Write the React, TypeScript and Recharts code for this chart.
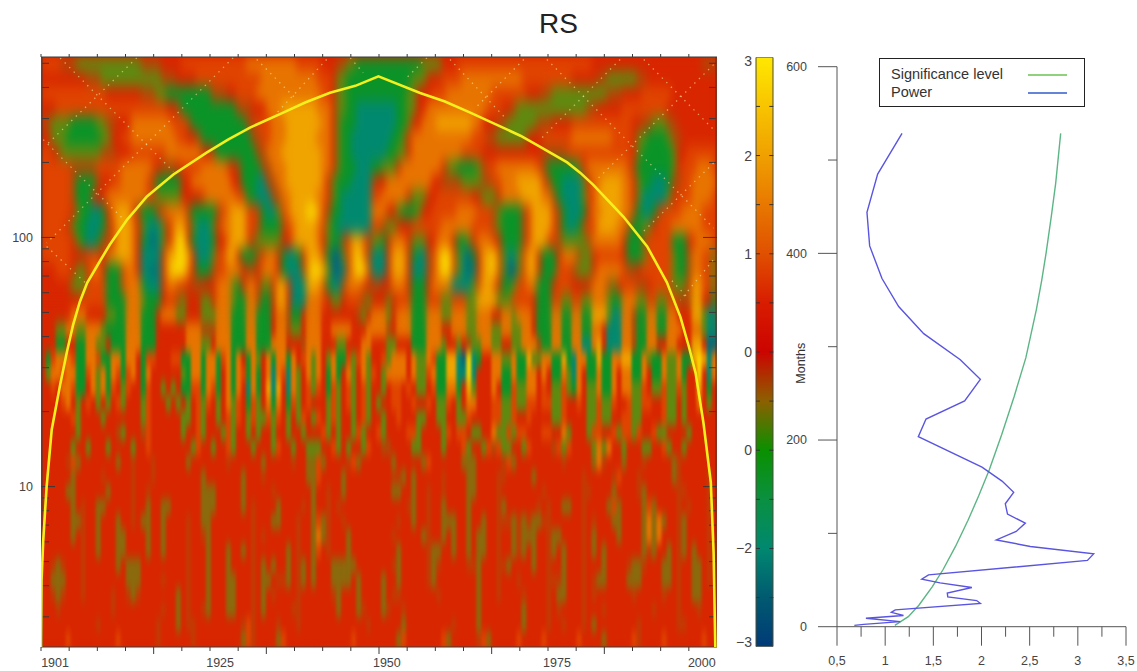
import { Bar, BarChart, Scatter, ScatterChart, XAxis, YAxis } from 'recharts'

const FONT = '"Liberation Sans", Arial, sans-serif'

// wavelet power: each row runs from the longest period down,
// written as "column:level" where a level holds until the next column
const HEAT_COLS = 135
const HEAT_ROWS = [
  '0:6 4:4 7:3 20:4 24:5 28:6 41:7 51:6 56:5 59:4 61:3 63:2 76:3 80:5 83:6 110:5 132:4',
  '0:5 9:4 12:3 24:4 27:5 31:6 44:7 55:6 58:5 59:3 61:2 74:3 77:5 80:6 84:7 96:6 106:5 111:4 113:3 119:4 121:5',
  '0:6 13:5 20:4 23:3 25:2 34:4 37:5 39:6 43:7 56:6 58:5 59:3 61:2 73:3 75:5 78:6 81:7 90:6 97:5 100:4 102:3 113:4 116:5 120:6 126:5',
  '0:5 3:6 25:5 27:4 28:2 39:4 42:5 45:7 48:8 55:7 58:5 59:3 61:2 63:1 71:2 73:3 75:5 77:7 89:6 92:5 94:4 95:3 109:4 111:5 116:6 125:5',
  '0:4 2:3 6:2 11:3 13:4 15:5 18:7 26:6 29:4 30:2 41:4 43:6 46:7 49:8 56:7 58:5 59:3 60:2 63:1 71:2 73:3 74:5 76:7 79:8 86:7 88:5 91:4 93:3 99:4 102:5 106:6 118:5 120:4 122:3 125:4 127:5',
  '0:5 2:3 5:2 12:3 14:5 16:6 18:7 27:6 29:5 31:4 32:2 42:4 44:6 46:7 49:8 55:7 58:5 59:3 60:2 62:1 70:2 72:3 73:5 74:7 86:6 89:4 91:3 97:5 100:6 106:7 114:6 118:5 119:3 121:2 125:3 126:4 128:5',
  '0:6 2:5 3:4 4:3 12:4 15:5 18:6 25:7 32:5 34:4 35:2 43:4 45:7 48:8 56:7 58:5 59:3 60:2 62:1 69:2 71:3 73:5 74:7 84:6 88:5 100:4 105:6 118:5 119:3 120:2 126:3 127:5 129:6',
  '0:6 6:4 11:6 16:7 22:6 23:5 24:4 27:5 28:6 32:7 37:6 38:5 39:4 40:2 44:4 46:7 49:8 56:7 58:5 59:3 60:2 63:1 66:2 68:3 71:5 72:7 80:5 81:3 83:2 87:3 88:4 89:6 91:7 99:6 100:4 101:2 107:3 108:5 109:7 117:6 118:4 119:2 126:3 127:5 128:6 131:7 134:6',
  '0:6 6:4 7:2 11:4 12:5 14:6 16:7 21:6 22:4 23:2 28:5 30:7 38:5 40:2 43:1 45:4 47:7 49:8 56:7 57:5 58:3 59:2 62:1 66:4 67:5 69:7 78:5 80:4 84:3 88:4 90:6 92:7 95:8 100:6 101:4 102:2 104:1 108:3 109:5 110:7 112:8 116:7 118:5 119:3 120:2 122:1 125:2 126:4 128:6 130:7',
  '0:6 6:4 7:2 10:4 11:5 13:7 21:6 23:3 28:5 32:6 33:7 39:6 41:2 43:1 46:4 48:7 50:8 55:7 57:5 58:3 59:2 60:1 66:6 68:7 73:5 74:3 77:5 79:6 86:5 88:3 91:5 92:7 96:8 100:7 102:4 103:2 104:1 108:3 109:6 111:8 116:7 118:5 119:3 120:1 125:3 126:5 127:6 130:7 134:6',
  '0:6 6:5 7:3 8:2 10:1 12:2 13:5 14:7 15:8 18:6 19:4 20:2 23:4 24:6 25:7 29:4 30:2 35:4 36:6 37:7 38:8 41:6 43:4 44:2 45:1 47:3 48:6 49:7 50:8 53:9 55:8 56:6 57:4 58:2 60:1 66:7 69:5 71:3 72:2 75:3 76:5 78:6 83:7 87:6 90:4 91:3 92:2 96:4 97:6 98:8 102:6 103:4 104:2 105:1 108:2 109:5 110:7 112:8 116:7 118:4 119:2 120:1 122:2 123:4 124:6 128:7 132:6',
  '0:6 5:5 6:3 7:2 9:1 12:2 13:4 14:6 15:8 18:7 19:5 20:3 21:1 24:3 25:5 26:7 27:8 29:5 30:3 31:1 34:3 35:5 36:7 38:8 41:6 43:4 44:2 48:4 49:6 50:7 51:8 55:7 56:6 57:3 58:2 59:1 66:6 68:4 69:3 71:5 74:6 80:7 86:6 90:4 91:3 92:2 96:4 97:6 98:8 102:6 103:4 104:2 105:1 107:2 108:4 109:6 111:8 115:7 117:4 118:2 120:3 122:5 123:6 126:7 132:6',
  '0:6 6:5 7:3 8:2 9:1 11:2 12:4 14:6 15:8 18:7 19:5 20:2 21:1 22:0 23:1 24:3 25:5 26:7 27:9 29:5 30:2 31:1 34:2 35:5 37:7 38:8 41:6 42:4 43:3 47:3 48:5 50:7 51:8 55:7 56:5 57:3 58:2 60:4 61:6 62:8 64:7 65:5 66:3 68:2 69:5 70:7 73:5 74:3 77:5 79:7 82:5 83:2 85:3 86:5 87:7 90:6 91:5 92:2 96:4 97:6 98:8 101:6 103:4 104:3 109:4 110:7 116:5 117:2 120:4 121:6 126:2 129:5 130:6 131:7 134:6',
  '0:6 6:5 9:6 12:5 13:7 15:8 18:7 19:5 20:1 24:5 25:8 27:9 29:8 30:5 31:1 34:3 35:6 37:8 39:5 40:2 43:4 44:6 45:7 47:5 48:2 49:1 51:2 52:5 53:8 56:6 57:2 58:0 60:3 61:6 62:8 63:9 64:7 65:4 66:1 69:5 70:8 73:5 74:2 75:1 77:4 78:6 79:8 80:9 82:6 83:3 84:1 85:0 86:2 87:5 88:8 90:9 91:6 92:3 93:1 95:3 96:6 97:8 99:5 100:2 103:5 104:7 107:4 108:3 110:5 111:6 116:5 117:2 120:3 121:6 126:3 127:2 129:4 130:7 132:6 134:3',
  '0:5 3:6 6:5 7:3 9:5 10:7 12:5 13:2 16:6 17:7 19:5 20:1 22:0 23:1 24:5 25:8 26:9 29:7 30:5 31:2 34:4 35:6 37:7 40:5 41:4 43:5 44:7 47:5 48:2 49:1 52:4 53:8 54:9 56:8 57:3 58:0 60:1 61:6 62:8 63:9 65:6 66:1 69:5 70:8 73:5 74:1 77:4 78:6 79:8 80:9 82:6 83:3 84:1 85:0 86:1 87:5 88:8 90:9 91:6 92:3 93:0 95:3 96:6 97:8 99:5 100:2 103:6 106:4 107:3 110:5 111:7 116:6 117:4 119:5 120:6 126:3 127:2 129:4 130:7 132:6 134:3',
  '0:5 6:3 9:6 13:2 16:6 17:7 20:2 21:1 24:5 25:7 27:6 29:5 30:4 32:5 35:7 38:3 39:2 40:5 41:7 43:5 44:3 46:5 47:8 49:5 50:1 53:8 56:6 57:2 58:1 60:4 61:7 64:6 65:5 66:4 68:5 70:7 73:5 74:2 77:5 78:7 82:1 86:3 87:6 88:8 90:7 91:5 92:2 94:3 95:6 97:7 99:2 102:5 103:6 106:5 110:7 113:4 114:3 115:5 116:6 119:4 121:5 122:6 126:3 129:5 130:8 132:6 134:3',
  '0:5 8:6 13:2 17:7 20:3 21:2 24:5 25:6 27:4 28:3 29:5 32:3 34:5 35:7 38:3 39:2 41:7 43:4 44:2 46:5 47:8 49:5 50:1 53:7 56:6 57:5 58:3 60:5 61:6 64:4 65:3 66:5 69:3 70:5 71:6 74:2 77:6 80:3 82:6 85:3 87:8 91:3 94:6 98:5 99:2 102:6 104:3 106:6 108:3 110:7 113:3 114:2 116:7 119:3 121:6 123:3 125:6 127:4 130:8 132:5 134:2',
  '0:5 6:7 9:5 13:3 15:2 17:7 20:2 23:5 24:7 27:3 29:5 32:3 35:7 38:2 41:7 43:2 46:5 47:7 49:4 50:2 52:5 53:7 56:5 63:4 64:3 65:5 66:7 69:3 70:5 71:7 74:2 77:7 80:3 82:7 85:3 87:7 90:5 92:7 94:3 95:7 98:5 99:2 102:7 104:2 106:7 108:2 110:8 113:3 114:1 116:7 118:4 119:2 121:7 123:2 125:7 127:5 130:8 132:3 133:1',
  '0:5 3:3 5:7 7:3 9:7 12:3 13:2 17:7 20:2 23:5 29:7 32:4 35:7 38:2 41:7 43:2 46:5 47:7 49:4 50:3 52:5 53:7 56:5 58:7 62:5 65:7 69:4 70:5 71:7 74:2 77:7 80:5 82:7 85:3 87:7 90:3 92:7 94:3 96:7 98:5 99:2 102:7 104:2 106:7 108:2 110:7 112:5 113:1 116:7 118:4 119:2 121:7 123:2 125:7 128:5 130:7 132:3 133:1',
  '0:5 3:2 5:5 7:2 9:7 11:3 13:5 14:2 17:7 20:2 23:5 29:7 32:3 34:5 35:7 38:2 41:7 43:2 46:7 49:5 52:4 53:7 56:5 59:3 61:5 64:7 66:5 69:3 71:5 74:2 77:7 80:3 81:5 83:3 84:5 85:4 86:3 88:7 90:3 92:5 94:3 96:7 99:4 100:2 102:7 104:2 106:7 108:1 110:7 111:8 112:5 113:1 116:7 118:4 119:2 121:7 123:5 125:7 127:5 130:8 132:5 133:0',
  '0:5 1:2 2:6 3:7 6:6 7:2 9:7 11:6 12:2 14:7 16:2 17:7 19:5 20:2 21:6 23:5 26:6 28:2 30:7 32:2 33:7 35:2 36:6 37:7 38:2 39:7 40:5 41:2 42:7 43:3 44:5 45:7 46:2 47:7 49:2 50:7 51:5 52:6 53:7 54:3 55:7 56:5 57:3 58:7 59:2 61:6 62:3 63:6 64:7 65:3 66:5 68:6 69:3 70:7 73:5 74:7 75:3 77:7 78:6 79:2 81:8 83:1 84:0 85:9 86:1 87:2 88:5 90:7 92:3 94:7 95:2 97:8 98:3 100:7 102:2 104:8 105:2 106:1 107:7 109:2 111:8 112:2 114:7 116:8 118:2 120:7 121:3 122:2 124:7 125:3 127:7 128:2 130:8 131:9 132:8 133:1 134:7',
  '0:5 1:3 2:7 4:6 5:7 7:2 9:6 10:7 11:3 12:7 13:2 14:7 15:6 16:2 17:6 18:7 19:5 20:2 21:7 22:5 28:3 29:2 30:7 32:2 33:7 35:2 36:5 37:7 38:2 39:7 40:6 41:2 42:7 43:2 44:5 45:7 46:1 47:7 48:6 49:1 50:7 51:3 52:5 53:7 54:3 55:7 56:5 57:2 58:7 59:2 60:5 61:7 62:3 63:5 64:7 65:3 66:6 67:5 68:3 69:7 73:5 74:7 75:3 77:6 78:7 79:2 81:8 83:1 85:9 86:1 87:5 90:7 92:2 94:7 95:2 97:7 99:5 100:7 101:5 102:2 104:7 105:3 106:1 107:7 108:5 109:2 111:7 112:2 114:7 115:5 116:7 118:2 120:7 121:5 122:2 124:7 125:3 127:7 128:2 129:5 131:9 132:5 133:1 134:7',
  '0:5 2:6 3:5 4:7 6:6 7:2 9:5 10:7 11:3 12:7 13:2 14:6 15:5 16:3 17:6 18:5 20:2 21:6 22:5 24:3 25:5 26:3 27:5 28:2 30:6 32:2 33:7 34:6 35:2 36:5 37:7 38:2 39:7 40:5 41:1 42:7 43:2 44:5 45:8 46:1 47:8 48:5 49:1 50:7 51:3 52:5 53:6 54:3 55:6 56:5 57:2 58:6 59:3 60:5 61:6 62:3 63:5 64:6 65:3 66:5 68:3 69:5 70:6 72:5 73:6 74:5 75:3 77:5 78:6 79:2 81:7 83:2 84:5 85:8 86:3 87:5 90:7 91:5 92:2 94:6 95:3 97:7 99:5 100:6 101:5 102:3 104:6 105:3 106:2 107:7 108:5 109:3 111:7 112:2 114:7 115:5 116:7 118:3 120:6 121:5 122:3 124:6 125:3 127:6 128:3 129:5 131:8 132:5 133:2 134:5',
  '0:5 4:6 5:7 6:5 7:3 8:5 9:6 10:5 11:3 12:5 13:3 14:5 15:6 16:3 17:5 20:3 21:6 22:5 25:3 26:5 27:3 28:5 29:3 30:5 31:6 32:3 33:6 34:5 35:3 36:5 37:7 38:3 39:6 40:5 41:2 42:6 43:3 44:5 45:7 46:2 47:7 48:5 49:2 50:6 51:3 52:5 53:6 54:5 57:3 58:6 59:3 60:5 61:6 62:3 63:5 64:6 65:3 66:5 67:3 68:5 70:6 72:5 74:6 75:5 77:6 78:5 79:3 81:6 82:5 83:3 84:5 85:7 87:5 90:6 92:3 94:6 95:3 97:6 99:5 100:6 102:3 104:6 105:5 107:6 108:5 109:3 111:6 112:3 114:6 115:5 117:6 118:3 120:6 122:5 124:6 125:3 127:5 128:3 129:5 131:7 132:5 133:3 134:5',
  '0:5 6:6 7:3 8:5 12:3 13:5 20:3 21:6 22:5 28:3 30:5 31:6 32:3 33:5 35:3 36:5 37:6 38:3 39:6 40:5 41:3 42:6 43:3 45:6 46:3 47:6 48:5 49:3 50:5 51:3 52:6 53:5 54:3 55:6 56:5 57:3 58:6 59:3 60:5 62:3 63:5 64:6 65:3 66:5 68:3 69:5 71:6 72:5 75:3 77:5 79:3 81:5 83:3 85:6 86:5 90:6 92:3 94:6 95:5 97:6 98:5 102:3 104:6 105:5 109:3 111:6 112:3 114:5 116:6 118:3 120:5 124:6 125:3 127:5 128:3 129:5',
  '0:5 7:3 8:5 15:4 16:3 17:5 20:4 21:6 22:5 28:3 29:5 31:6 32:3 33:5 36:3 37:6 38:3 39:5 41:3 42:5 43:3 44:5 46:3 47:5 49:3 50:5 52:3 53:5 56:6 57:3 58:5 59:3 60:5 62:3 63:6 64:3 65:5 67:6 68:3 69:5 73:6 75:3 76:5 80:3 81:6 82:5 83:6 85:5 86:3 88:5 90:7 91:3 93:6 94:3 95:6 97:5 100:6 102:5 104:7 105:3 106:5 109:3 110:6 112:5 114:6 115:3 116:6 118:3 119:6 120:5 122:6 123:3 125:5 129:3 130:5',
  '0:5 6:3 7:5 9:3 10:5 13:3 14:5 18:3 19:5 21:6 22:5 30:3 31:6 32:5 34:3 35:5 37:6 38:3 39:5 42:3 43:5 46:3 47:6 48:5 50:3 51:5 53:3 54:6 55:3 56:5 58:6 59:3 60:5 61:3 62:5 64:3 65:6 66:5 68:4 70:5 74:3 76:5 80:3 81:5 84:6 85:3 86:5 88:3 89:6 90:4 91:6 92:3 94:5 96:3 97:6 98:5 102:4 103:6 104:3 105:6 106:5 110:3 111:7 112:3 113:7 114:5 116:3 117:5 120:3 122:5 124:6 125:3 126:5 128:3 129:5',
  '0:5 5:4 6:6 7:3 8:5 15:3 16:5 22:4 23:5 29:3 30:5 37:4 38:5 44:3 45:5 50:4 51:5 54:3 55:6 56:3 57:5 61:4 62:6 63:3 64:5 70:3 71:5 76:3 77:6 78:5 84:3 85:6 86:3 87:5 92:4 93:6 94:3 95:5 104:4 105:5 110:3 111:7 112:4 113:5 116:3 117:5 120:4 121:5 126:3 127:5',
  '0:5 6:4 7:5 12:4 13:5 22:4 23:5 32:3 33:5 44:4 45:5 54:3 55:6 56:5 60:3 61:5 70:4 72:3 73:5 80:4 81:5 85:6 86:3 87:5 92:4 93:5 98:3 99:5 108:4 109:5 114:4 115:6 116:5 119:4 120:5 126:3 127:5',
  '0:5 5:3 6:5 13:3 14:5 21:4 22:5 32:3 33:4 34:3 35:5 46:4 47:5 54:4 55:5 60:3 61:5 70:3 72:5 80:4 81:5 86:3 87:5 100:4 101:5 108:3 109:4 110:5 114:3 115:5 119:4 120:3 121:5 128:4 129:5',
  '0:5 6:3 7:5 11:4 12:3 13:5 21:3 22:5 25:3 26:5 32:3 33:2 34:3 35:5 47:3 48:5 52:4 53:5 59:4 60:5 73:4 75:5 80:3 81:5 92:3 93:5 99:4 100:5 104:3 106:5 113:3 114:6 115:3 116:5 120:3 121:6 122:3 123:5 129:4 130:5',
  '0:5 6:4 7:3 8:5 11:3 12:5 15:4 16:5 20:3 21:5 24:3 25:5 32:3 33:4 34:5 46:3 47:5 54:3 55:6 56:3 57:5 60:4 61:5 71:4 72:5 80:3 82:5 88:3 89:5 92:4 94:5 96:3 97:4 98:3 100:4 101:5 110:4 111:5 114:3 115:5 120:3 121:7 122:3 123:7 124:3 125:5',
  '0:5 6:3 7:5 11:3 12:5 16:3 17:5 24:3 25:5 32:4 33:3 34:5 44:4 45:5 54:3 55:7 56:3 57:5 61:3 62:5 70:4 71:5 76:3 77:5 80:3 81:5 88:3 89:5 95:3 96:6 97:3 98:6 99:5 102:3 104:5 110:3 111:5 120:3 121:7 122:3 123:7 124:5 128:3 129:5',
  '0:5 8:4 9:5 16:3 17:5 24:4 25:5 40:3 41:5 49:3 50:5 54:3 55:6 56:5 61:3 62:5 71:4 72:5 78:3 80:5 87:3 89:5 95:3 96:5 102:3 103:5 110:3 111:5 121:4 122:5 130:3 131:5',
  '0:5 2:4 3:3 4:4 5:5 17:3 20:5 37:3 38:5 44:4 45:5 46:3 47:5 52:3 53:5 58:3 61:5 62:3 63:5 70:4 71:3 72:5 78:3 79:4 80:5 85:4 87:3 88:5 92:4 93:3 94:5 104:3 105:5 112:4 113:5 117:4 118:3 120:4 121:5 124:3 125:5 130:4 131:3 132:5',
  '0:5 2:3 5:5 17:3 20:5 24:4 25:5 38:3 39:5 44:3 46:5 47:4 49:5 52:3 53:5 58:3 59:2 60:3 61:5 63:3 64:5 71:3 72:5 78:4 79:5 87:3 88:5 95:4 96:5 102:4 104:5 110:4 111:3 112:5 117:3 120:5 124:3 126:5 130:3 132:5',
  '0:5 2:4 3:3 4:4 5:5 14:4 15:5 17:4 18:3 19:4 20:5 29:3 30:5 38:3 39:5 46:4 47:5 58:4 59:3 60:5 63:3 64:5 70:4 72:5 79:4 80:5 87:3 88:5 96:4 97:5 103:3 104:5 110:4 111:5 118:4 119:5 124:4 125:5 131:3 132:5',
  '0:5 3:4 4:5 14:4 15:5 24:4 25:5 32:4 33:5 38:3 39:5 50:4 51:5 64:4 65:5 69:4 70:5 72:4 73:5 87:3 88:5 96:3 97:5 103:4 104:5 112:4 113:5 122:4 123:5 131:4 132:5',
  '0:5 11:4 12:5 23:4 24:5 30:4 31:5 40:4 41:6 42:5 47:4 48:5 65:4 66:5 72:3 73:5 82:4 83:5 87:4 88:5 96:3 97:5 104:4 105:5 110:3 111:5 119:4 120:5 128:4 129:5',
  '0:5 5:6 6:5 15:6 16:5 23:4 24:5 30:4 31:5 40:3 41:6 42:5 47:3 48:6 49:5 62:6 63:5 71:3 72:6 73:5 80:6 81:3 82:5 87:4 88:6 89:3 90:5 95:6 96:5 100:6 101:5 107:6 108:5 112:3 113:5 118:6 119:4 120:5 124:6 125:5 132:6 133:5',
]
// thin olive streaks of the short-period zone, each [column, first row, last row, level]
const HEAT_STREAKS = [
  [6, 28, 31, 3], [11, 30, 33, 3], [15, 31, 34, 3], [21, 30, 33, 3], [24, 30, 33, 3], [33, 29, 34, 3],
  [37, 33, 37, 3], [27, 36, 38, 3], [33, 35, 37, 3], [44, 34, 37, 3], [47, 30, 31, 3], [49, 33, 35, 3],
  [54, 26, 35, 3], [53, 26, 28, 3], [59, 34, 37, 3], [61, 33, 35, 3], [63, 35, 37, 3], [40, 28, 30, 3],
  [8, 30, 36, 4], [18, 27, 31, 4], [29, 31, 38, 4], [42, 30, 39, 4], [51, 31, 38, 4], [57, 29, 33, 4],
  [74, 28, 31, 3], [71, 33, 35, 3], [68, 35, 37, 3], [78, 33, 35, 3], [82, 31, 33, 3], [85, 26, 33, 3],
  [87, 32, 38, 3], [94, 31, 33, 3], [95, 31, 33, 4], [96, 32, 33, 3], [98, 31, 34, 3], [104, 33, 36, 3],
  [112, 33, 35, 3], [115, 30, 32, 3], [118, 34, 35, 3], [120, 30, 33, 3], [122, 30, 33, 3], [125, 33, 35, 3],
  [130, 34, 36, 3], [128, 31, 33, 3], [77, 29, 35, 4], [91, 28, 36, 4], [101, 30, 38, 4], [108, 29, 38, 4],
  [127, 27, 38, 4], [133, 28, 35, 4],
]
const LEVEL_COLORS = ['#04667a', '#008a70', '#0a9428', '#5f8a10', '#b04808', '#d82600', '#e04400', '#e87400', '#f0a400', '#fad800']
// short-period streaks are thinner than a cell, so they read weaker than the same level higher up
const FADED_OLIVE = '#8a6a0c'
const FADED_BROWN = '#c23a04'
const FADED_ROW_START = 27
const FINE_ROW_START = 16

const MONTHS_MAX = 1200
const PERIOD_MIN = 2.27
const PERIOD_MAX = 530

const heatCells = HEAT_ROWS.flatMap((row, r) => {
  const levels = new Array(HEAT_COLS).fill(5)
  row.split(' ').forEach(part => {
    const [col, level] = part.split(':').map(Number)
    levels.fill(level, col)
  })
  HEAT_STREAKS.forEach(([col, from, to, level]) => {
    if (r >= from && r <= to) levels[col] = level
  })
  const share = (r + 0.5) / HEAT_ROWS.length
  const y = PERIOD_MAX * Math.pow(PERIOD_MIN / PERIOD_MAX, share)
  return levels.map((level, c) => ({ x: ((c + 0.5) / HEAT_COLS) * MONTHS_MAX, y, level, r }))
})
const fineCells = heatCells.filter(c => c.r >= FINE_ROW_START)

// cone of influence
const COI_MONTHS = [0, 1, 4, 10, 19, 34, 46, 57, 69, 82, 105, 122, 153, 188, 235, 294, 332, 371, 430, 469, 513, 558, 599, 673, 717, 762, 820, 851, 880, 934, 957, 980, 1034, 1076, 1111, 1135, 1150, 1162, 1176, 1189, 1194, 1197]
const COI_PERIODS = [2.27, 4.2, 6.1, 10, 16.9, 25.6, 34.7, 44.6, 55.2, 65.8, 80.6, 93.5, 118, 146, 179, 219, 247, 276, 317, 348, 381, 406, 443, 380, 351, 317, 276, 256, 235, 200, 182, 163, 121, 92, 66, 48, 36.5, 28.6, 18, 10.4, 5.4, 2.27]

// pale dotted diagonals, each [month, period, month, period]
const CONE_SEGMENTS = [
  [34, 525, 235, 184], [170, 526, 7, 232], [341, 526, 10, 95], [383, 518, 454, 357],
  [507, 518, 419, 317], [549, 526, 572, 458], [4, 247, 152, 115], [10, 92, 78, 66],
  [685, 526, 649, 437], [726, 518, 827, 297], [857, 518, 774, 336], [898, 518, 1194, 109],
  [1028, 518, 886, 247], [1194, 494, 987, 171], [1070, 518, 1194, 271], [1194, 199, 1070, 106],
  [1120, 67, 1149, 57], [1193, 81, 1135, 56],
]

const MONTH_TICKS = [0, 50, 100, 150, 250, 300, 350, 450, 500, 550, 650, 700, 750, 850, 900, 950, 1050, 1100, 1150]
const MONTH_MAJOR_TICKS = [200, 400, 600, 800, 1000]
const MONTH_TOP_TICKS = [...MONTH_TICKS, ...MONTH_MAJOR_TICKS].sort((a, b) => a - b)
const YEAR_LABEL_MONTHS = [25, 318, 614, 916, 1173]
const YEAR_LABELS = ['1901', '1925', '1950', '1975', '2000']
const MONTH_BOTTOM_TICKS = [...MONTH_TOP_TICKS, ...YEAR_LABEL_MONTHS].sort((a, b) => a - b)
const PERIOD_MAJOR_TICKS = [10, 100]
const PERIOD_MINOR_TICKS = [3, 4, 5, 6, 7, 8, 9, 20, 30, 40, 50, 60, 70, 80, 90, 200, 300, 400, 500]

const COLORBAR_TICKS = [3, 2, 1, 0, -1, -2, -3]
const COLORBAR_LABELS = ['3', '2', '1', '0', '0', '\u22122', '\u22123']
const COLORBAR_MARKS = [-2.5, -2, -1.5, -1, -0.5, 0, 0.5, 1, 1.5, 2, 2.5]
const COLORBAR_STOPS: [number, string][] = [
  [3, '#ffe800'], [2.5, '#f8c400'], [2, '#f0a000'], [1.5, '#e87800'], [1, '#e05000'], [0.5, '#d81c00'],
  [0, '#cc0400'], [-0.5, '#8c6000'], [-1, '#0a9000'], [-1.5, '#0a9040'], [-2, '#008870'], [-2.5, '#005a70'], [-3, '#003a78'],
]

// global power spectrum
const POWER_MONTHS = [528.6, 485, 444, 408, 373, 343, 314, 286, 265, 242, 222.5, 203.6, 171, 156, 144, 131.7, 120.6, 111, 102, 93, 86, 78, 71, 55.5, 51, 47, 42, 36, 32, 28, 25, 18, 15.4, 12, 9, 5.4, 2.5, 1.4]
const POWER_VALUES = [1.175, 0.922, 0.811, 0.839, 0.967, 1.14, 1.4, 1.78, 1.988, 1.825, 1.424, 1.344, 2.005, 2.213, 2.334, 2.247, 2.27, 2.455, 2.36, 2.154, 2.507, 3.164, 3.1, 1.45, 1.38, 1.57, 1.9, 1.645, 1.65, 1.95, 1.988, 1.105, 1.064, 1.19, 0.8, 1.157, 0.777, 0.68]
const SIG_MONTHS = [528.6, 475, 440, 400, 371, 340, 288, 247, 206, 168, 140, 114, 86, 61, 43, 23, 10.7, 1.4]
const SIG_VALUES = [2.822, 2.77, 2.725, 2.67, 2.625, 2.57, 2.46, 2.34, 2.21, 2.08, 1.97, 1.86, 1.73, 1.6, 1.49, 1.35, 1.24, 1.1]

const SPECTRUM_X_TICKS = [0.5, 1, 1.5, 2, 2.5, 3, 3.5]
const SPECTRUM_X_ALL = [0.5, 0.75, 1, 1.25, 1.5, 1.75, 2, 2.25, 2.5, 2.75, 3, 3.25, 3.5]
const SPECTRUM_Y_TICKS = [0, 200, 400, 600]
const SPECTRUM_Y_MINOR = [100, 300, 500]

const LEGEND_ITEMS = [
  { label: 'Significance level', color: '#8ed27c' },
  { label: 'Power', color: '#6484d8' },
]

const coiData = COI_MONTHS.map((x, i) => ({ x, y: COI_PERIODS[i] }))
const powerData = POWER_MONTHS.map((y, i) => ({ x: POWER_VALUES[i], y }))
const sigData = SIG_MONTHS.map((y, i) => ({ x: SIG_VALUES[i], y }))
const colorbarData = [{ name: 'scale', range: [-3, 3] }]

const periodDomain = [PERIOD_MIN, PERIOD_MAX]
const monthDomain = [0, MONTHS_MAX]
const frame = '#3a3a3a'
const labelStyle = { fontSize: 12.5, fill: '#444', fontFamily: FONT }
// axes that only carry tick lines: next to nothing so they take no room, yet recharts still draws them
const THIN = 0.01

const CELL_W = 676 / HEAT_COLS + 0.7
const CELL_H = 590 / HEAT_ROWS.length + 0.7

function cellColor(level: number, r: number) {
  if (r >= FADED_ROW_START && level === 3) return FADED_OLIVE
  if (r >= FADED_ROW_START && level === 4) return FADED_BROWN
  return LEVEL_COLORS[level]
}

function HeatCell(props: any) {
  return (
    <rect
      x={props.cx - CELL_W / 2}
      y={props.cy - CELL_H / 2}
      width={CELL_W}
      height={CELL_H}
      fill={cellColor(props.payload.level, props.payload.r)}
    />
  )
}

function HeatField({ cells }: { cells: any[] }) {
  return (
    <ScatterChart width={676} height={590} margin={{ top: 0, right: 0, bottom: 0, left: 0 }}>
      <XAxis type="number" dataKey="x" domain={monthDomain} hide />
      <YAxis type="number" dataKey="y" scale="log" domain={periodDomain} allowDataOverflow hide />
      <Scatter data={cells} shape={HeatCell} isAnimationActive={false} />
    </ScatterChart>
  )
}

function NoMark() {
  return null
}

// tick lines only: recharts drops the lines altogether when tick is false
function BlankTick() {
  return <g />
}

// year labels sit off the tick marks in the picture, so one axis draws marks and labels by hand
function MonthTick({ x, y, payload }: any) {
  const labelIndex = YEAR_LABEL_MONTHS.indexOf(payload.value)
  if (labelIndex >= 0) {
    return (
      <text x={x} y={y + 20} textAnchor="middle" {...labelStyle}>
        {YEAR_LABELS[labelIndex]}
      </text>
    )
  }
  const size = MONTH_MAJOR_TICKS.includes(payload.value) ? 7 : 4
  return <line x1={x} x2={x} y1={y} y2={y + size} stroke={frame} />
}

function SpectrumTick({ x, y, payload }: any) {
  if (!SPECTRUM_X_TICKS.includes(payload.value)) {
    return <line x1={x} x2={x} y1={y} y2={y + 10} stroke="#555" />
  }
  return (
    <g>
      <line x1={x} x2={x} y1={y} y2={y + 19} stroke="#555" />
      <text x={x} y={y + 38} textAnchor="middle" {...labelStyle}>
        {String(payload.value).replace('.', ',')}
      </text>
    </g>
  )
}

function ColorbarTick({ x, y, index }: any) {
  const nudge = index === 0 ? 3.4 : index === COLORBAR_TICKS.length - 1 ? -4.3 : 0
  return (
    <text x={x} y={y + nudge} dy={5} textAnchor="end" fontSize={14} fill="#444" fontFamily={FONT}>
      {COLORBAR_LABELS[index]}
    </text>
  )
}

const fineMask = 'linear-gradient(to bottom, transparent 235px, black 300px)'

export default function App() {
  return (
    <div style={{ position: 'absolute', left: 0, top: 0, width: 1137, height: 671, background: '#fff', overflow: 'hidden', fontFamily: FONT }}>
      <svg width={0} height={0} style={{ position: 'absolute' }}>
        <filter id="coarseBlur" x="0" y="0" width="100%" height="100%" colorInterpolationFilters="sRGB">
          <feGaussianBlur stdDeviation="3.6 7" />
        </filter>
        <filter id="fineBlur" x="0" y="0" width="100%" height="100%" colorInterpolationFilters="sRGB">
          <feGaussianBlur stdDeviation="1.5 5.5" />
        </filter>
      </svg>

      <div style={{ position: 'absolute', left: 0, width: 1117, top: 8, textAlign: 'center', fontSize: 28, color: '#222' }}>RS</div>

      {/* wavelet field sits in its own clipped box so the blur cannot bleed past the frame */}
      <div style={{ position: 'absolute', left: 41, top: 57, width: 676, height: 590, overflow: 'hidden', background: '#d82600' }}>
        <div style={{ filter: 'url(#coarseBlur)' }}>
          <HeatField cells={heatCells} />
        </div>
        <div style={{ position: 'absolute', left: 0, top: 0, width: 676, height: 590, WebkitMaskImage: fineMask, maskImage: fineMask }}>
          <div style={{ filter: 'url(#fineBlur)' }}>
            <HeatField cells={fineCells} />
          </div>
        </div>
      </div>

      <div style={{ position: 'absolute', left: 0, top: 0 }}>
        <ScatterChart width={730} height={671} margin={{ top: 57, right: 13, bottom: 0, left: 6 }}>
          <XAxis type="number" dataKey="x" domain={monthDomain} allowDataOverflow height={24} ticks={MONTH_BOTTOM_TICKS} interval={0} tick={MonthTick} tickLine={false} tickSize={0} tickMargin={0} stroke={frame} />

          <YAxis type="number" dataKey="y" scale="log" domain={periodDomain} allowDataOverflow width={35} ticks={PERIOD_MAJOR_TICKS} interval={0}
            tick={labelStyle} tickLine={false} axisLine={false} tickSize={0} tickMargin={8} />
          <YAxis yAxisId="leftMajor" mirror type="number" scale="log" domain={periodDomain} allowDataOverflow width={1} ticks={PERIOD_MAJOR_TICKS} interval={0} tick={BlankTick} tickSize={14} axisLine={false} stroke={frame} />
          <YAxis yAxisId="leftMinor" mirror type="number" scale="log" domain={periodDomain} allowDataOverflow width={1} ticks={PERIOD_MINOR_TICKS} interval={0} tick={BlankTick} tickSize={7} stroke={frame} />
          <YAxis yAxisId="rightMajor" mirror orientation="right" type="number" scale="log" domain={periodDomain} allowDataOverflow width={1} ticks={PERIOD_MAJOR_TICKS} interval={0} tick={BlankTick} tickSize={14} axisLine={false} stroke={frame} />
          <YAxis yAxisId="rightMinor" mirror orientation="right" type="number" scale="log" domain={periodDomain} allowDataOverflow width={1} ticks={PERIOD_MINOR_TICKS} interval={0} tick={BlankTick} tickSize={7} stroke={frame} />

          {CONE_SEGMENTS.map((s, i) => (
            <Scatter key={i} data={[{ x: s[0], y: s[1] }, { x: s[2], y: s[3] }]} shape={NoMark} isAnimationActive={false}
              line={{ stroke: '#f6e6a0', strokeWidth: 1.3, strokeDasharray: '1.4 5', strokeOpacity: 0.6 }} />
          ))}
          <Scatter data={coiData} shape={NoMark} isAnimationActive={false} line={{ stroke: '#f4f01e', strokeWidth: 2.6 }} />
        </ScatterChart>
      </div>

      {/* the frame's top edge with its small outward ticks */}
      <div style={{ position: 'absolute', left: 0, top: 0 }}>
        <ScatterChart width={730} height={671} margin={{ top: 57, right: 13, bottom: 24, left: 41 }}>
          <XAxis orientation="top" type="number" dataKey="x" domain={monthDomain} allowDataOverflow height={THIN} ticks={MONTH_TOP_TICKS} interval={0} tick={BlankTick} tickSize={3} stroke={frame} />
          <YAxis type="number" dataKey="y" scale="log" domain={periodDomain} allowDataOverflow hide />
          <Scatter data={coiData} shape={NoMark} isAnimationActive={false} />
        </ScatterChart>
      </div>

      <div style={{ position: 'absolute', left: 715, top: 0 }}>
        <BarChart width={70} height={671} data={colorbarData} barCategoryGap={0} margin={{ top: 57.3, right: 11.7, bottom: 24.3, left: 5 }}>
          <defs>
            <linearGradient id="colorbarFill" x1="0" y1="0" x2="0" y2="1">
              {COLORBAR_STOPS.map(([v, color]) => (
                <stop key={v} offset={(3 - v) / 6} stopColor={color} />
              ))}
            </linearGradient>
          </defs>
          <XAxis dataKey="name" hide />
          <YAxis type="number" domain={[-3, 3]} allowDataOverflow width={36} ticks={COLORBAR_TICKS} interval={0} tick={<ColorbarTick />} tickLine={false} axisLine={false} tickSize={0} tickMargin={4} />
          <Bar dataKey="range" fill="url(#colorbarFill)" stroke="#4a4a38" strokeWidth={1} isAnimationActive={false} />
          <YAxis yAxisId="l" mirror type="number" domain={[-3, 3]} allowDataOverflow width={1} ticks={COLORBAR_MARKS} interval={0} tick={BlankTick} axisLine={false} tickSize={4} stroke="#333" />
          <YAxis yAxisId="r" mirror orientation="right" type="number" domain={[-3, 3]} allowDataOverflow width={1} ticks={COLORBAR_MARKS} interval={0} tick={BlankTick} axisLine={false} tickSize={4} stroke="#333" />
        </BarChart>
      </div>

      <div style={{ position: 'absolute', left: 760, top: 0 }}>
        <ScatterChart width={377} height={671} margin={{ top: 66.7, right: 11, bottom: 4.3, left: 17 }}>
          <XAxis type="number" dataKey="x" domain={[0.5, 3.5]} allowDataOverflow height={40} ticks={SPECTRUM_X_ALL} interval={0} tick={SpectrumTick} tickLine={false} tickSize={0} tickMargin={0} stroke="#555" />
          <YAxis type="number" dataKey="y" domain={[0, 600]} allowDataOverflow width={THIN} ticks={SPECTRUM_Y_MINOR} interval={0} tick={BlankTick} tickSize={9} axisLine={false} stroke="#555" />
          <YAxis yAxisId="labels" type="number" domain={[0, 600]} allowDataOverflow width={60} ticks={SPECTRUM_Y_TICKS} interval={0} tick={labelStyle} tickSize={19} tickMargin={11} stroke="#555"
            label={{ value: 'Months', angle: -90, position: 'insideLeft', offset: 24, dy: 37, style: { fontSize: 12.5, fill: '#333', fontFamily: FONT } }} />
          <Scatter data={sigData} shape={NoMark} isAnimationActive={false} line={{ stroke: '#5cb585', strokeWidth: 1.4 }} />
          <Scatter data={powerData} shape={NoMark} isAnimationActive={false} line={{ stroke: '#5a55e0', strokeWidth: 1.4 }} />
        </ScatterChart>
      </div>

      <div style={{ position: 'absolute', left: 879, top: 58, width: 206, height: 49, boxSizing: 'border-box', border: '1.5px solid #222', background: '#fff', paddingTop: 6 }}>
        {LEGEND_ITEMS.map(item => (
          <div key={item.label} style={{ position: 'relative', height: 18, lineHeight: '18px', fontSize: 14.5, color: '#333', paddingLeft: 11 }}>
            {item.label}
            <span style={{ position: 'absolute', left: 148, top: 9, width: 39, height: 1.5, background: item.color }} />
          </div>
        ))}
      </div>
    </div>
  )
}
